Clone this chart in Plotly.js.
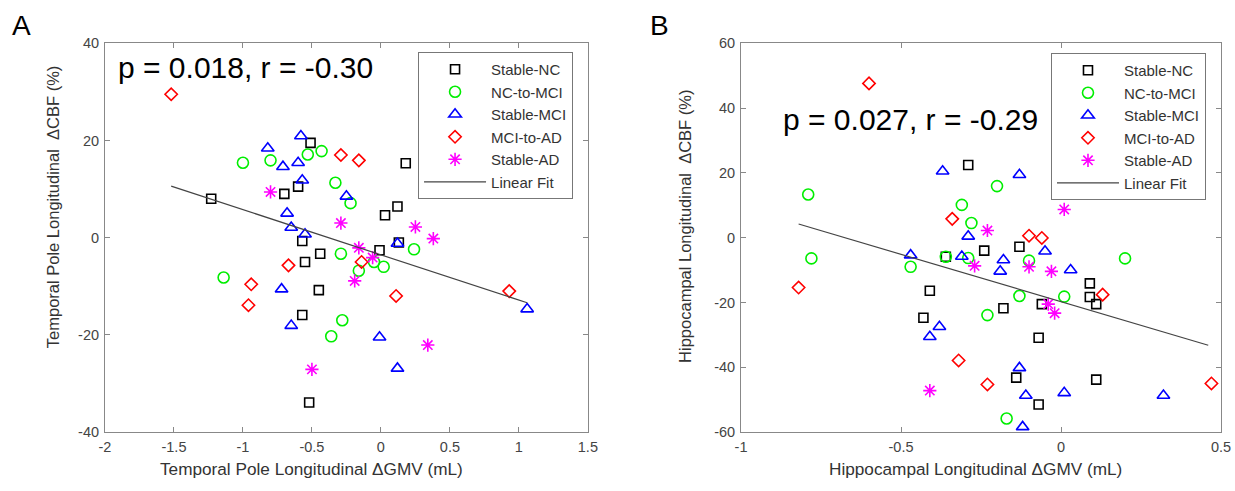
<!DOCTYPE html>
<html>
<head>
<meta charset="utf-8">
<script src="https://cdn.plot.ly/plotly-3.0.1.min.js"></script>
<style>html,body{margin:0;padding:0;background:#fff;}#chart{width:1235px;height:491px;}</style>
</head>
<body>
<div id="chart"></div>
<script>
// ---------- Data ----------
const groupNames = ["Stable-NC", "NC-to-MCI", "Stable-MCI", "MCI-to-AD", "Stable-AD"];

// Panel A: Temporal pole
const A_stableNC_x = [-1.23,-0.51,0.18,-0.60,-0.70,0.12,0.03,-0.57,0.13,-0.01,-0.44,-0.55,-0.45,-0.57,-0.52];
const A_stableNC_y = [8.0,19.5,15.3,10.5,9.0,6.4,4.6,-0.7,-1.0,-2.6,-3.3,-5.0,-10.8,-15.9,-33.9];
const A_ncToMci_x = [-1.00,-0.80,-0.53,-0.43,-0.33,-0.22,-0.29,0.24,-0.16,-0.05,0.02,-0.28,-0.36,-1.14];
const A_ncToMci_y = [15.4,15.9,17.1,17.8,11.3,7.1,-3.3,-2.4,-6.8,-5.0,-6.0,-17.0,-20.3,-8.2];
const A_stableMCI_x = [-0.58,-0.82,-0.71,-0.60,-0.57,-0.25,-0.68,-0.65,-0.55,0.12,-0.72,-0.65,-0.01,1.06,0.12];
const A_stableMCI_y = [20.9,18.4,14.6,15.4,11.8,8.5,5.0,2.1,0.7,-1.2,-10.6,-18.1,-20.5,-14.7,-26.9];
const A_mciToAD_x = [-1.52,-0.29,-0.16,-0.67,-0.14,-0.94,-0.96,0.11,0.93];
const A_mciToAD_y = [29.5,17.0,15.9,-5.7,-5.0,-9.6,-13.9,-12.0,-11.0];
const A_stableAD_x = [-0.80,-0.29,0.25,0.38,-0.16,-0.06,-0.19,0.34,-0.50];
const A_stableAD_y = [9.4,3.0,2.2,-0.2,-2.1,-4.1,-8.9,-22.1,-27.1];
const A_fit_x = [-1.52, 1.06];
const A_fit_y = [10.6, -13.4];

// Panel B: Hippocampus
const B_stableNC_x = [-0.29,-0.24,-0.13,-0.36,-0.41,-0.43,-0.18,-0.06,-0.07,0.09,0.09,0.11,0.11,-0.07,-0.14];
const B_stableNC_y = [22.4,-4.0,-2.8,-5.9,-16.4,-24.7,-21.8,-20.5,-30.9,-14.1,-18.3,-20.5,-43.8,-51.5,-43.2];
const B_ncToMci_x = [-0.79,-0.78,-0.47,-0.20,-0.31,-0.28,-0.36,-0.29,-0.10,-0.13,-0.23,0.01,0.20,-0.17];
const B_ncToMci_y = [13.3,-6.4,-9.0,15.9,10.1,4.5,-5.9,-6.3,-7.1,-18.0,-23.9,-18.2,-6.4,-55.8];
const B_stableMCI_x = [-0.37,-0.13,-0.29,-0.47,-0.31,-0.18,-0.19,-0.05,0.03,-0.38,-0.41,-0.13,-0.11,0.01,0.32,-0.12];
const B_stableMCI_y = [20.5,19.4,0.4,-5.4,-5.8,-6.9,-10.4,-4.2,-10.0,-27.5,-30.6,-40.2,-48.7,-47.9,-48.7,-58.4];
const B_mciToAD_x = [-0.60,-0.34,-0.10,-0.06,-0.82,-0.32,-0.23,0.13,0.47];
const B_mciToAD_y = [47.6,5.8,0.6,-0.1,-15.4,-37.9,-45.3,-17.6,-45.0];
const B_stableAD_x = [-0.23,0.01,-0.27,-0.10,-0.03,-0.04,-0.02,-0.41];
const B_stableAD_y = [2.2,8.7,-8.7,-9.0,-10.4,-20.5,-23.3,-47.2];
const B_fit_x = [-0.82, 0.46];
const B_fit_y = [4.2, -33.2];

// Tick labels
const A_xticks = [-2,-1.5,-1,-0.5,0,0.5,1,1.5];
const A_xtickText = ["-2","-1.5","-1","-0.5","0","0.5","1","1.5"];
const A_yticks = [-40,-20,0,20,40];
const A_ytickText = ["-40","-20","0","20","40"];
const B_xticks = [-1,-0.5,0,0.5];
const B_xtickText = ["-1","-0.5","0","0.5"];
const B_yticks = [-60,-40,-20,0,20,40,60];
const B_ytickText = ["-60","-40","-20","0","20","40","60"];

const statsA = "p = 0.018, r = -0.30";
const statsB = "p = 0.027, r = -0.29";

// ---------- Styles ----------
const FONT = "Liberation Sans, Arial, Helvetica, sans-serif";
const styles = [
  {symbol: "square-open", color: "#000000", size: 9},
  {symbol: "circle-open", color: "#00ee00", size: 11},
  {symbol: "triangle-up-open", color: "#0000ff", size: 11},
  {symbol: "diamond-open", color: "#ff0000", size: 9.5},
  {symbol: "asterisk-open", color: "#ff00ff", size: 11}
];

function groupTraces(xs, ys, xa, ya, legend) {
  return xs.map((x, i) => ({
    type: "scatter", mode: "markers", x: x, y: ys[i],
    name: groupNames[i], xaxis: xa, yaxis: ya, legend: legend,
    marker: {symbol: styles[i].symbol, size: styles[i].size, color: styles[i].color,
             line: {color: styles[i].color, width: 1.6}}
  }));
}

const traces = [].concat(
  groupTraces([A_stableNC_x, A_ncToMci_x, A_stableMCI_x, A_mciToAD_x, A_stableAD_x],
              [A_stableNC_y, A_ncToMci_y, A_stableMCI_y, A_mciToAD_y, A_stableAD_y], "x", "y", "legend"),
  [{type: "scatter", mode: "lines", x: A_fit_x, y: A_fit_y, name: "Linear Fit", xaxis: "x", yaxis: "y",
    legend: "legend", line: {color: "#444444", width: 1.2}}],
  groupTraces([B_stableNC_x, B_ncToMci_x, B_stableMCI_x, B_mciToAD_x, B_stableAD_x],
              [B_stableNC_y, B_ncToMci_y, B_stableMCI_y, B_mciToAD_y, B_stableAD_y], "x2", "y2", "legend2"),
  [{type: "scatter", mode: "lines", x: B_fit_x, y: B_fit_y, name: "Linear Fit", xaxis: "x2", yaxis: "y2",
    legend: "legend2", line: {color: "#444444", width: 1.2}}]
);

function axis(domain, range, tv, tt, anchor, standoff) {
  return {
    domain: domain, range: range, anchor: anchor,
    tickvals: tv, ticktext: tt, ticks: "inside", ticklen: 5, tickwidth: 1, tickcolor: "#888888",
    showline: true, linecolor: "#888888", linewidth: 1, mirror: "ticks",
    showgrid: false, zeroline: false, ticklabelstandoff: standoff,
    tickfont: {family: FONT, size: 14.5, color: "#444444"}
  };
}

const legendStyle = {
  bgcolor: "#ffffff", bordercolor: "#777777", borderwidth: 1,
  font: {family: FONT, size: 15, color: "#333333"},
  itemwidth: 62, tracegroupgap: 0, xanchor: "left", yanchor: "top",
  xref: "paper", yref: "paper"
};

const ann = (text, x, y, size, color, angle) => ({
  text: text, x: x, y: y, xref: "paper", yref: "paper", showarrow: false,
  xanchor: "center", yanchor: "middle", textangle: angle || 0,
  font: {family: FONT, size: size, color: color}
});

const layout = {
  width: 1235, height: 491,
  margin: {l: 0, r: 0, t: 0, b: 0},
  paper_bgcolor: "#ffffff", plot_bgcolor: "#ffffff",
  showlegend: true,
  xaxis: axis([0.085, 0.476], [-2, 1.5], A_xticks, A_xtickText, "y", 2),
  yaxis: axis([0.12, 0.912], [-40, 40], A_yticks, A_ytickText, "x", 2),
  xaxis2: axis([0.600, 0.9887], [-1, 0.5], B_xticks, B_xtickText, "y2", 2),
  yaxis2: axis([0.12, 0.912], [-60, 60], B_yticks, B_ytickText, "x2", 2),
  legend: Object.assign({}, legendStyle, {x: 0.3385, y: 0.894}),
  legend2: Object.assign({}, legendStyle, {x: 0.851, y: 0.892}),
  annotations: [
    ann(statsA, 0.199, 0.8635, 30, "#000000"),
    ann(statsB, 0.737, 0.756, 30, "#000000"),
    ann("A", 0.0178, 0.949, 28, "#000000"),
    ann("B", 0.534, 0.949, 28, "#000000"),
    ann("Temporal Pole Longitudinal \u00a0\u0394CBF (%)", 0.0429, 0.578, 16.5, "#333333", -90),
    ann("Hippocampal Longitudinal \u00a0\u0394CBF (%)", 0.5547, 0.538, 16.5, "#333333", -90),
    ann("Temporal Pole Longitudinal \u0394GMV (mL)", 0.2526, 0.044, 17.2, "#333333"),
    ann("Hippocampal Longitudinal \u0394GMV (mL)", 0.7895, 0.044, 17.2, "#333333")
  ]
};

Plotly.newPlot("chart", traces, layout, {displayModeBar: false, staticPlot: true});
</script>
</body>
</html>
